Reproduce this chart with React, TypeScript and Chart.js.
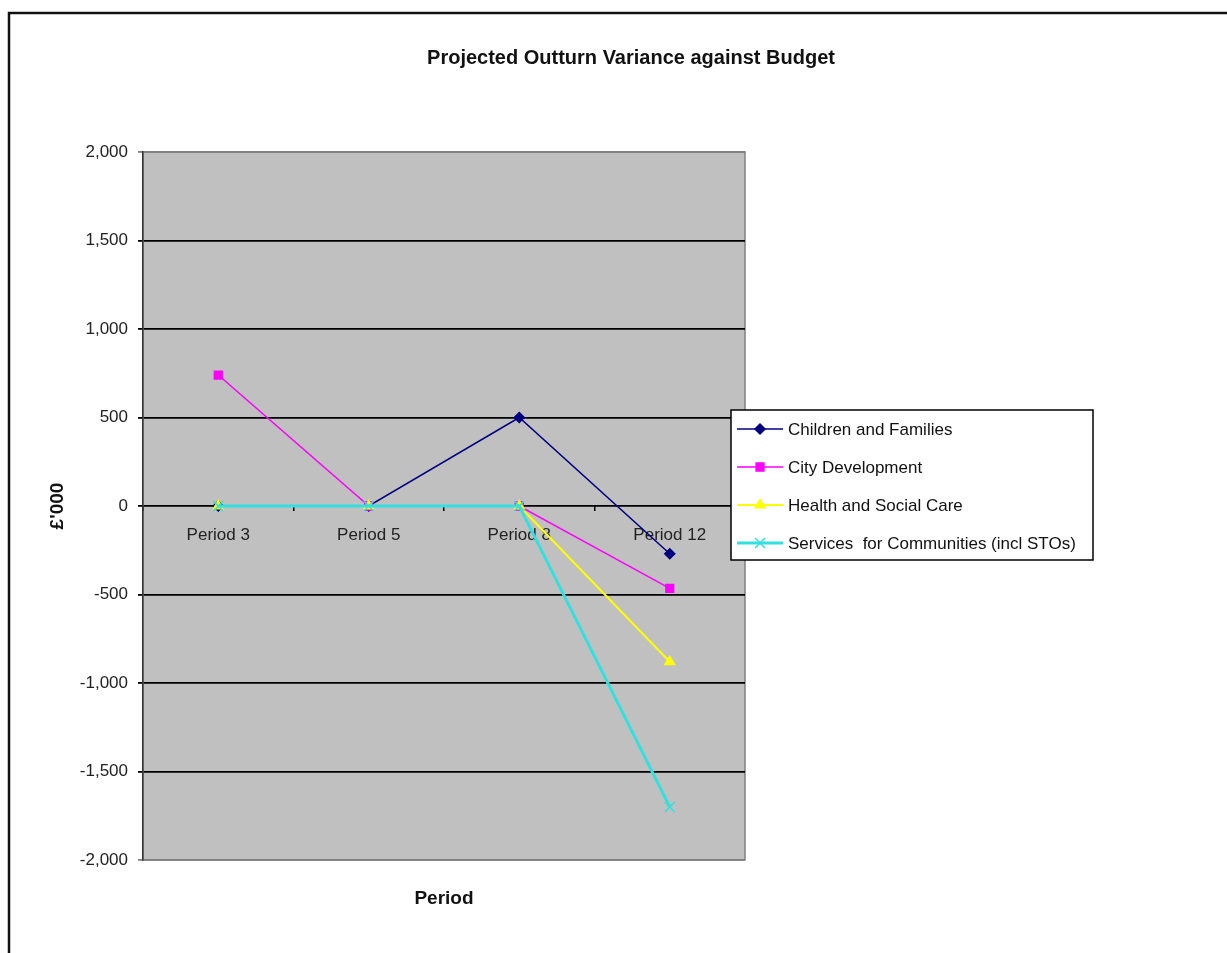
import React, { useEffect, useRef } from "react";
import { Chart, registerables } from "chart.js";
import { drawPoint } from "chart.js/helpers";

Chart.register(...registerables);

const periods = ["Period 3", "Period 5", "Period 8", "Period 12"];
const childrenAndFamilies = [0, 0, 500, -270];
const cityDevelopment = [740, 0, 0, -465];
const healthAndSocialCare = [0, 0, 0, -880];
const servicesForCommunities = [0, 0, 0, -1700];
const yTicks = [-2000, -1500, -1000, -500, 0, 500, 1000, 1500, 2000];

const FONT = "'Liberation Sans', Arial, sans-serif";

const seriesStyles = [
  { label: "Children and Families", data: childrenAndFamilies, color: "#000080", point: "rectRot", radius: 5, width: 1.5 },
  { label: "City Development", data: cityDevelopment, color: "#FF00FF", point: "rect", radius: 5.5, width: 1.5 },
  { label: "Health and Social Care", data: healthAndSocialCare, color: "#FFFF00", point: "triangle", radius: 5.5, width: 2 },
  { label: "Services  for Communities (incl STOs)", data: servicesForCommunities, color: "#33E0E0", point: "crossRot", radius: 7, width: 3 },
];

const framePlugin = {
  id: "frame",
  beforeDraw(chart: any) {
    const { ctx, chartArea: a } = chart;
    ctx.save();
    ctx.fillStyle = "#ffffff";
    ctx.fillRect(0, 0, chart.width, chart.height);
    ctx.fillStyle = "#c0c0c0";
    ctx.fillRect(a.left, a.top, a.right - a.left, a.bottom - a.top);
    ctx.strokeStyle = "#808080";
    ctx.lineWidth = 1.5;
    ctx.strokeRect(a.left, a.top, a.right - a.left, a.bottom - a.top);
    // outer chart border
    ctx.strokeStyle = "#111";
    ctx.lineWidth = 2.5;
    ctx.beginPath();
    ctx.moveTo(9, chart.height);
    ctx.lineTo(9, 13);
    ctx.lineTo(chart.width, 13);
    ctx.stroke();
    ctx.restore();
  },
  afterDraw(chart: any) {
    const { ctx, chartArea: a } = chart;
    ctx.save();
    ctx.fillStyle = "#111";
    ctx.textAlign = "center";
    ctx.textBaseline = "middle";
    ctx.font = `bold 20px ${FONT}`;
    ctx.fillText("Projected Outturn Variance against Budget", 631, 58);
    ctx.font = `bold 19px ${FONT}`;
    ctx.fillText("Period", (a.left + a.right) / 2, 899);
    ctx.save();
    ctx.translate(58, (a.top + a.bottom) / 2);
    ctx.rotate(-Math.PI / 2);
    ctx.fillText("£'000", 0, 0);
    ctx.restore();

    // legend box
    const lx = 731, ly = 410, lw = 362, lh = 150;
    ctx.fillStyle = "#ffffff";
    ctx.fillRect(lx, ly, lw, lh);
    ctx.strokeStyle = "#000";
    ctx.lineWidth = 1.5;
    ctx.strokeRect(lx, ly, lw, lh);
    ctx.textAlign = "left";
    ctx.font = `17px ${FONT}`;
    chart.data.datasets.forEach((ds: any, i: number) => {
      const y = ly + 19 + i * 38;
      ctx.strokeStyle = ds.borderColor;
      ctx.lineWidth = ds.borderWidth;
      ctx.beginPath();
      ctx.moveTo(lx + 6, y);
      ctx.lineTo(lx + 52, y);
      ctx.stroke();
      ctx.fillStyle = ds.pointBackgroundColor;
      ctx.strokeStyle = ds.pointBorderColor;
      ctx.lineWidth = 1.5;
      drawPoint(ctx, { pointStyle: ds.pointStyle, radius: ds.pointRadius, borderWidth: 1.5, rotation: 0 }, lx + 29, y);
      ctx.fillStyle = "#111";
      ctx.fillText(ds.label, lx + 57, y + 1);
    });
    ctx.restore();
  },
};

export default function App() {
  const canvasRef = useRef<HTMLCanvasElement | null>(null);

  useEffect(() => {
    document.body.style.margin = "0";
    const canvas = canvasRef.current;
    if (!canvas) return;
    const chart = new Chart(canvas, {
      type: "line",
      data: {
        labels: periods,
        datasets: seriesStyles.map((s, i) => ({
          label: s.label,
          data: s.data,
          borderColor: s.color,
          backgroundColor: s.color,
          pointBackgroundColor: s.color,
          pointBorderColor: s.color,
          pointStyle: s.point as any,
          pointRadius: s.radius,
          pointBorderWidth: 1.5,
          borderWidth: s.width,
          tension: 0,
          fill: false,
          order: seriesStyles.length - i,
        })),
      },
      options: {
        animation: false,
        responsive: false,
        devicePixelRatio: 1,
        layout: { padding: { left: 0, top: 152, right: 482, bottom: 93 } },
        plugins: {
          legend: { display: false },
          title: { display: false },
          tooltip: { enabled: false },
        },
        scales: {
          x: {
            type: "category",
            position: { y: 0 } as any,
            offset: true,
            grid: {
              offset: true,
              drawOnChartArea: false,
              drawTicks: true,
              tickLength: 5,
              color: "#000",
              lineWidth: 1.5,
            },
            border: { display: false },
            ticks: {
              color: "#222",
              font: { family: FONT, size: 17 },
              padding: 14,
              maxRotation: 0,
            },
          },
          y: {
            min: -2000,
            max: 2000,
            afterBuildTicks(scale: any) {
              scale.ticks = yTicks.map((v) => ({ value: v }));
            },
            afterFit(scale: any) {
              scale.width = 143;
            },
            grid: {
              color: (ctx: any) =>
                ctx.tick && Math.abs(ctx.tick.value) === 2000 ? "#808080" : "#000",
              lineWidth: 1.8,
              tickLength: 5,
              drawTicks: true,
            },
            border: { color: "#333", width: 1.5 },
            ticks: {
              color: "#222",
              font: { family: FONT, size: 17 },
              padding: 10,
              callback: (v: any) => Number(v).toLocaleString("en-US"),
            },
          },
        },
      },
      plugins: [framePlugin],
    });
    return () => chart.destroy();
  }, []);

  return (
    <div style={{ position: "relative", width: 1227, height: 953 }}>
      <canvas ref={canvasRef} width={1227} height={953} />
    </div>
  );
}
